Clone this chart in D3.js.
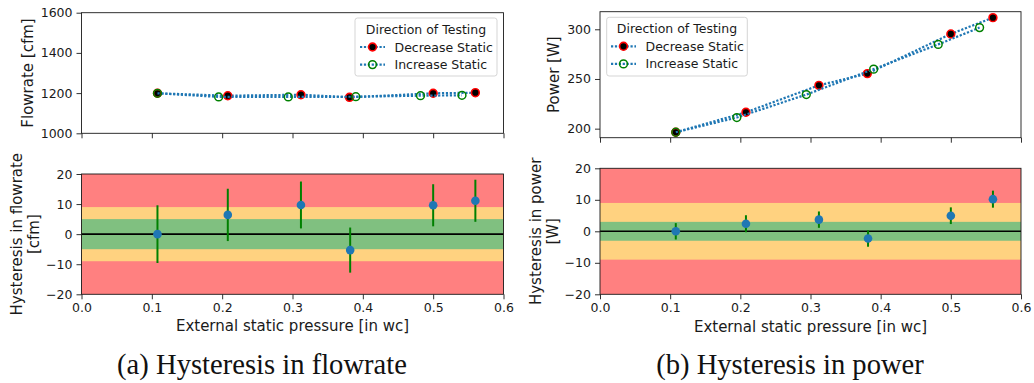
<!DOCTYPE html>
<html>
<head>
<meta charset="utf-8">
<script src="https://cdn.jsdelivr.net/npm/d3@7"></script>
<style>
  html, body { margin: 0; padding: 0; background: #fff; }
  svg { display: block; }
  .tick text { font-family: "DejaVu Sans", sans-serif; font-size: 12.5px; fill: #1a1a1a; }
  .axis path, .axis line { stroke: #1a1a1a; stroke-width: 0.9; }
</style>
</head>
<body>
<svg id="fig" width="1034" height="383"></svg>
<script>
// Test points: external static pressure [in wc]
const pressureDecrease = [0.108, 0.208, 0.312, 0.381, 0.500, 0.560];
const pressureIncrease = [0.108, 0.195, 0.294, 0.390, 0.482, 0.541];
const pressureHysteresis = [0.108, 0.208, 0.312, 0.382, 0.500, 0.560];

// Flowrate [cfm]
const flowDecrease = [1199, 1187, 1192, 1179, 1199, 1202];
const flowIncrease = [1199, 1181, 1181, 1182, 1187, 1189];
const flowHysteresis = [0, 6.4, 9.7, -5.3, 9.6, 11.1];
const flowHysteresisErr = [9.6, 8.7, 7.8, 7.5, 7.0, 7.0];

// Power [W]
const powerDecrease = [196.4, 216.5, 243.6, 255.4, 295.3, 311.7];
const powerIncrease = [196.4, 211.2, 234.3, 259.9, 284.8, 301.7];
const powerHysteresis = [0, 2.4, 3.7, -2.3, 4.95, 10.2];
const powerHysteresisErr = [2.6, 2.7, 2.6, 2.6, 2.65, 2.7];

// Tolerance bands (green = inner, yellow = outer)
const flowBands = [5, 9];
const powerBands = [3, 9];

const xTicks = [0.0, 0.1, 0.2, 0.3, 0.4, 0.5, 0.6];
const flowTicks = [1000, 1200, 1400, 1600];
const powerTicks = [200, 250, 300];
const hystTicks = [-20, -10, 0, 10, 20];

const seriesNames = ["Decrease Static", "Increase Static"];
const legendTitle = "Direction of Testing";
const xLabel = "External static pressure [in wc]";
const captions = ["(a) Hysteresis in flowrate", "(b) Hysteresis in power"];

const BLUE = "#1f77b4";
const INK = "#1a1a1a";
const fmtTick = d => (d < 0 ? "\u2212" + Math.abs(d) : String(d));
const fmtX = d => d.toFixed(1);

const svg = d3.select("#fig");

function drawTop(cfg) {
  const x = d3.scaleLinear().domain([0, 0.6]).range([cfg.x0, cfg.x1]);
  const y = d3.scaleLinear().domain(cfg.yDomain).range([cfg.y1, cfg.y0]);
  const g = svg.append("g");

  g.append("g").attr("class", "axis").attr("transform", `translate(0,${cfg.y1})`)
    .call(d3.axisBottom(x).tickValues(xTicks).tickSize(5).tickFormat(""))
    .call(s => s.select(".domain").remove());
  g.append("g").attr("class", "axis").attr("transform", `translate(${cfg.x0},0)`)
    .call(d3.axisLeft(y).tickValues(cfg.yTicks).tickSize(5).tickPadding(4).tickFormat(fmtTick))
    .call(s => s.select(".domain").remove());

  const line = d3.line();
  const series = [
    { xs: pressureDecrease, ys: cfg.dec, kind: "dec" },
    { xs: pressureIncrease, ys: cfg.inc, kind: "inc" }
  ];
  const clipId = "clip" + cfg.id;
  svg.append("clipPath").attr("id", clipId).append("rect")
    .attr("x", cfg.x0).attr("y", cfg.y0).attr("width", cfg.x1 - cfg.x0).attr("height", cfg.y1 - cfg.y0);
  const plot = g.append("g").attr("clip-path", `url(#${clipId})`);
  series.forEach(s => {
    const pts = s.xs.map((v, i) => [x(v), y(s.ys[i])]);
    plot.append("path").attr("d", line(pts)).attr("fill", "none")
      .attr("stroke", BLUE).attr("stroke-width", 2.2).attr("stroke-dasharray", "2.2,1.7");
    plot.selectAll(null).data(pts).enter().append("circle")
      .attr("cx", d => d[0]).attr("cy", d => d[1]).attr("r", 3.9)
      .attr("fill", s.kind === "dec" ? "#000" : "none")
      .attr("stroke", s.kind === "dec" ? "#ff0000" : "#008000")
      .attr("stroke-width", s.kind === "dec" ? 1.6 : 1.5);
  });

  // frame
  g.append("rect").attr("x", cfg.x0).attr("y", cfg.y0)
    .attr("width", cfg.x1 - cfg.x0).attr("height", cfg.y1 - cfg.y0)
    .attr("fill", "none").attr("stroke", INK).attr("stroke-width", 0.9);

  // legend
  const L = cfg.legend;
  const lg = g.append("g");
  lg.append("rect").attr("x", L.x).attr("y", L.y).attr("width", L.w).attr("height", L.h)
    .attr("rx", 2.5).attr("fill", "#fff").attr("fill-opacity", 0.85)
    .attr("stroke", "#d0d0d0").attr("stroke-width", 0.9);
  lg.append("text").attr("x", L.x + L.w / 2).attr("y", L.y + 15.8)
    .attr("text-anchor", "middle").attr("font-family", "DejaVu Sans").attr("font-size", 12.5)
    .attr("fill", INK).text(legendTitle);
  seriesNames.forEach((name, i) => {
    const cy = L.y + 29 + i * 17.6;
    lg.append("line").attr("x1", L.lx).attr("x2", L.lx + 25).attr("y1", cy).attr("y2", cy)
      .attr("stroke", BLUE).attr("stroke-width", 2.2).attr("stroke-dasharray", "2.2,1.7");
    lg.append("circle").attr("cx", L.lx + 12.5).attr("cy", cy).attr("r", 3.9)
      .attr("fill", i === 0 ? "#000" : "none")
      .attr("stroke", i === 0 ? "#ff0000" : "#008000").attr("stroke-width", i === 0 ? 1.6 : 1.5);
    lg.append("text").attr("x", L.lx + 34.5).attr("y", cy + 4.5)
      .attr("font-family", "DejaVu Sans").attr("font-size", 12.5).attr("fill", INK).text(name);
  });

  // y label
  svg.append("text").attr("transform", `translate(${cfg.labelX},${(cfg.y0 + cfg.y1) / 2}) rotate(-90)`)
    .attr("text-anchor", "middle").attr("dy", "0.36em")
    .attr("font-family", "DejaVu Sans").attr("font-size", 15).attr("fill", INK).text(cfg.label);
}

function drawBottom(cfg) {
  const x = d3.scaleLinear().domain([0, 0.6]).range([cfg.x0, cfg.x1]);
  const y = d3.scaleLinear().domain([-20, 20]).range([cfg.y1, cfg.y0]);
  const g = svg.append("g");

  // tolerance bands
  const bands = [
    { lim: 20, color: "#ff8080" },
    { lim: cfg.bands[1], color: "#ffd280" },
    { lim: cfg.bands[0], color: "#80c080" }
  ];
  g.selectAll(null).data(bands).enter().append("rect")
    .attr("x", x(0)).attr("width", x(0.6) - x(0))
    .attr("y", d => y(d.lim)).attr("height", d => y(-d.lim) - y(d.lim))
    .attr("fill", d => d.color);

  // zero line
  g.append("line").attr("x1", x(0)).attr("x2", x(0.6)).attr("y1", y(0)).attr("y2", y(0))
    .attr("stroke", "#000").attr("stroke-width", 1.6);

  // error bars and points
  const pts = pressureHysteresis.map((p, i) => ({ p, v: cfg.values[i], e: cfg.errs[i] }));
  g.selectAll(null).data(pts).enter().append("line")
    .attr("x1", d => x(d.p)).attr("x2", d => x(d.p))
    .attr("y1", d => y(d.v - d.e)).attr("y2", d => y(d.v + d.e))
    .attr("stroke", "#008000").attr("stroke-width", 2);
  g.selectAll(null).data(pts).enter().append("circle")
    .attr("cx", d => x(d.p)).attr("cy", d => y(d.v)).attr("r", 4.3).attr("fill", BLUE);

  g.append("g").attr("class", "axis").attr("transform", `translate(0,${cfg.y1})`)
    .call(d3.axisBottom(x).tickValues(xTicks).tickSize(5).tickPadding(3.5).tickFormat(fmtX))
    .call(s => s.select(".domain").remove());
  g.append("g").attr("class", "axis").attr("transform", `translate(${cfg.x0},0)`)
    .call(d3.axisLeft(y).tickValues(hystTicks).tickSize(5).tickPadding(4).tickFormat(fmtTick))
    .call(s => s.select(".domain").remove());

  g.append("rect").attr("x", cfg.x0).attr("y", cfg.y0)
    .attr("width", cfg.x1 - cfg.x0).attr("height", cfg.y1 - cfg.y0)
    .attr("fill", "none").attr("stroke", INK).attr("stroke-width", 0.9);

  // y label (two lines)
  const cy = (cfg.y0 + cfg.y1) / 2;
  cfg.label.forEach((t, i) => {
    svg.append("text").attr("transform", `translate(${cfg.labelX[i]},${cy}) rotate(-90)`)
      .attr("text-anchor", "middle").attr("dy", "0.36em")
      .attr("font-family", "DejaVu Sans").attr("font-size", 15).attr("fill", INK).text(t);
  });
  // x label
  svg.append("text").attr("x", (cfg.x0 + cfg.x1) / 2).attr("y", cfg.xLabelY)
    .attr("text-anchor", "middle").attr("dy", "0.36em")
    .attr("font-family", "DejaVu Sans").attr("font-size", 15).attr("fill", INK).text(xLabel);
}

drawTop({
  id: "a", x0: 81.5, x1: 503.5, y0: 12.7, y1: 133.3, yDomain: [1000, 1600], yTicks: flowTicks,
  dec: flowDecrease, inc: flowIncrease, label: "Flowrate [cfm]", labelX: 28,
  legend: { x: 355, y: 18, w: 142, h: 58, lx: 360 }
});
drawBottom({
  x0: 81.5, x1: 503.5, y0: 174, y1: 294.3, values: flowHysteresis, errs: flowHysteresisErr,
  bands: flowBands, label: ["Hysteresis in flowrate", "[cfm]"], labelX: [17, 34], xLabelY: 326
});
drawTop({
  id: "b", x0: 600, x1: 1021, y0: 11.7, y1: 137.7, yDomain: [190.9, 317.7], yTicks: powerTicks,
  dec: powerDecrease, inc: powerIncrease, label: "Power [W]", labelX: 554,
  legend: { x: 606.7, y: 17.3, w: 140.6, h: 58.7, lx: 611 }
});
drawBottom({
  x0: 600, x1: 1021, y0: 168.3, y1: 294.3, values: powerHysteresis, errs: powerHysteresisErr,
  bands: powerBands, label: ["Hysteresis in power", "[W]"], labelX: [536, 553], xLabelY: 326.5
});

// sub-figure captions
[[262, captions[0]], [790, captions[1]]].forEach(([cx, t]) => {
  svg.append("text").attr("x", cx).attr("y", 373.5).attr("text-anchor", "middle")
    .attr("font-family", "Liberation Serif, serif").attr("font-size", 28.6).attr("fill", "#111").text(t);
});
</script>
</body>
</html>
